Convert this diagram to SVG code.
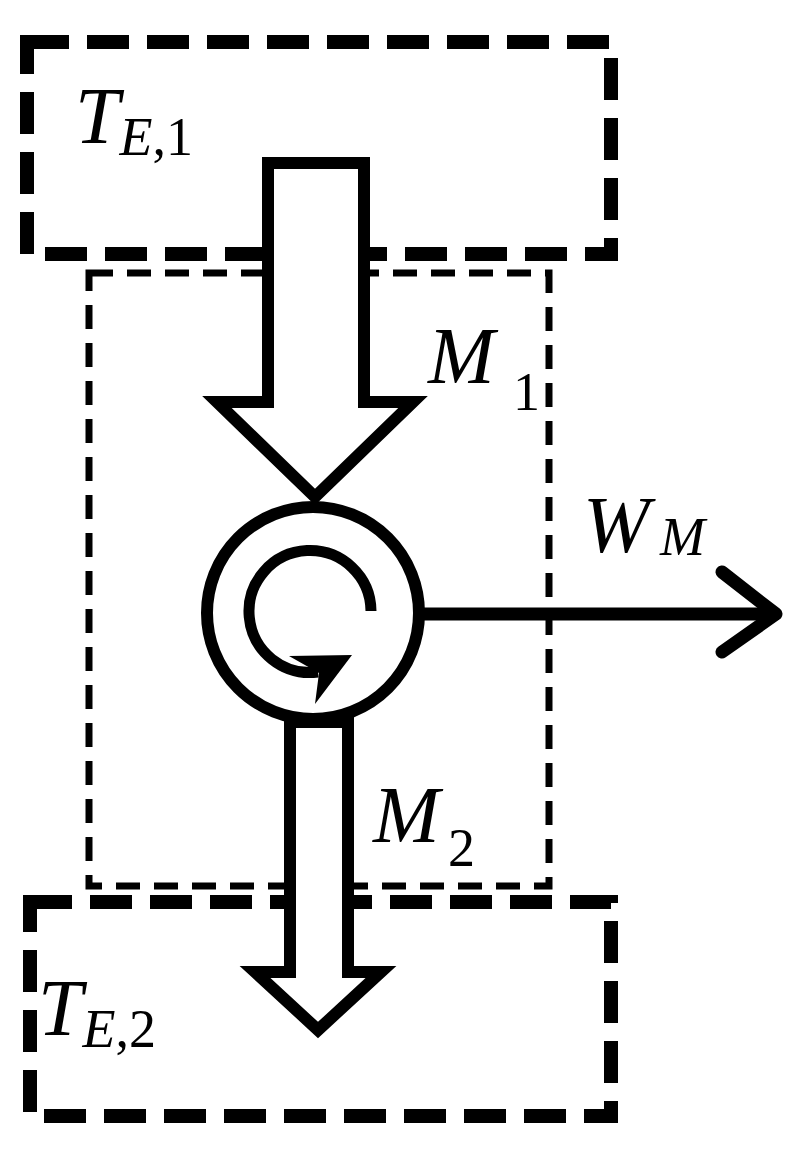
<svg xmlns="http://www.w3.org/2000/svg" width="806" height="1158" viewBox="0 0 806 1158">
<style>
.thick{fill:none;stroke:#000;stroke-width:14;stroke-dasharray:42,18}
.thin{fill:none;stroke:#000;stroke-width:7;stroke-dasharray:24,14}
.hollow{fill:#fff;stroke:#000;stroke-width:12;stroke-linejoin:miter}
text{font-family:"Liberation Serif",serif;fill:#000}
.big{font-size:80px;font-style:italic}.sub{font-size:54px;font-style:italic}.num{font-size:54px;font-style:normal}
</style>
<rect width="806" height="1158" fill="#fff"/>
<g id="box-middle"><rect class="thin" x="89" y="273" width="460" height="613"/></g>
<g id="box-top"><rect class="thick" x="27" y="42" width="584" height="212"/>
<text x="75" y="143"><tspan class="big">T</tspan><tspan class="sub" dy="12">E</tspan><tspan class="num">,1</tspan></text></g>
<g id="box-bottom"><rect class="thick" x="30" y="902" width="581" height="214"/>
<text x="38" y="1035"><tspan class="big">T</tspan><tspan class="sub" dy="12">E</tspan><tspan class="num">,2</tspan></text></g>
<g id="connectors">
<polygon class="hollow" points="268,163 364,163 364,402 413,402 315,497 217,402 268,402"/>
<polygon class="hollow" points="290,722 348,722 348,972 381,972 318,1030 255,972 290,972"/>
<line x1="424" y1="614" x2="776" y2="614" stroke="#000" stroke-width="13"/>
<polyline points="722,572 776,614 722,652" fill="none" stroke="#000" stroke-width="13" stroke-linecap="round" stroke-linejoin="round"/>
</g>
<g id="machine">
<circle cx="313" cy="613" r="106" fill="#fff" stroke="#000" stroke-width="12"/>
<path d="M371,611 A61,61 0 1 0 318,672" fill="none" stroke="#000" stroke-width="11"/>
<polygon points="289,656 352,655 315,704 319,673"/>
</g>
<text x="428" y="383" class="big">M</text><text x="513" y="410" class="num">1</text>
<text x="583" y="552" class="big">W</text><text x="660" y="555" class="sub">M</text>
<text x="373" y="842" class="big">M</text><text x="448" y="866" class="num">2</text>
</svg>
